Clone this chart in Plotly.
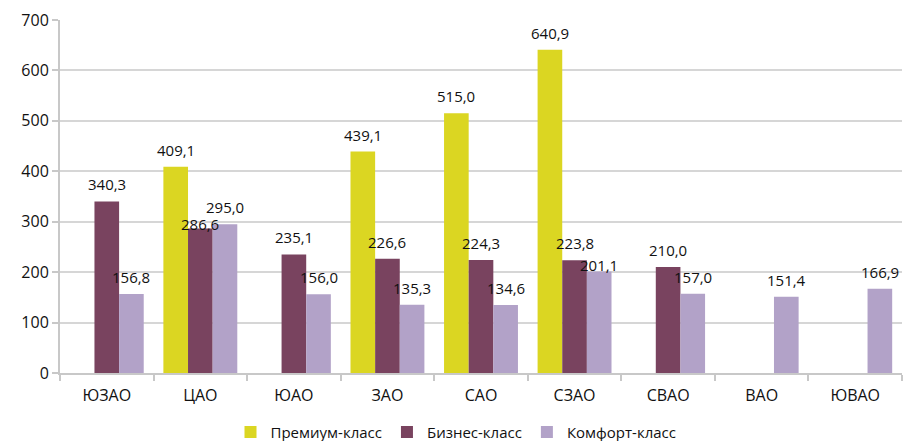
import plotly.graph_objects as go

categories = ["ЮЗАО", "ЦАО", "ЮАО", "ЗАО", "САО", "СЗАО", "СВАО", "ВАО", "ЮВАО"]
premium = [None, 409.1, None, 439.1, 515.0, 640.9, None, None, None]
business = [340.3, 286.6, 235.1, 226.6, 224.3, 223.8, 210.0, None, None]
comfort = [156.8, 295.0, 156.0, 135.3, 134.6, 201.1, 157.0, 151.4, 166.9]
y_ticks = [0, 100, 200, 300, 400, 500, 600, 700]

series = [
    ("Премиум-класс", premium, "#dbd622"),
    ("Бизнес-класс", business, "#79435f"),
    ("Комфорт-класс", comfort, "#b2a2c8"),
]

BARGAP = 0.21
LABEL_SHIFT = 17  # px above bar top (label centre)
# label nudges (series index, category index) -> px shift, as in the reference
NUDGE = {(1, 1): 4, (2, 5): 7}

def fmt(v):
    return f"{v:.1f}".replace(".", ",")

fig = go.Figure()
slot_w = (1 - BARGAP) / len(series)
for s, (name, vals, color) in enumerate(series):
    fig.add_trace(go.Bar(
        x=categories, y=vals, name=name, marker_color=color,
        marker_line_width=0, hoverinfo="y",
    ))
    for i, v in enumerate(vals):
        if v is None:
            continue
        fig.add_annotation(
            x=i + (s - 1) * slot_w, y=v, xref="x", yref="y",
            text=fmt(v), showarrow=False, yanchor="middle",
            yshift=NUDGE.get((s, i), LABEL_SHIFT),
            font=dict(size=15, color="#111111"),
        )

fig.update_layout(
    width=912, height=441,
    margin=dict(l=60, r=10, t=20, b=68, autoexpand=False),
    paper_bgcolor="white", plot_bgcolor="white",
    barmode="group", bargap=BARGAP, bargroupgap=0,
    font=dict(family="Open Sans, sans-serif", size=15, color="#111111"),
    showlegend=True,
    legend=dict(orientation="h", x=0.5, xanchor="center", xref="container",
                y=0.02, yanchor="middle", yref="container",
                font=dict(size=15), traceorder="normal"),
)
fig.update_xaxes(
    showline=True, linecolor="#c8c8c8", linewidth=2,
    ticks="outside", tickcolor="#c8c8c8", ticklen=6, tickwidth=2,
    tickson="boundaries", tickfont=dict(size=16), showgrid=False,
    ticklabelstandoff=7,
)
fig.update_yaxes(
    range=[0, 700], tickvals=y_ticks, showgrid=True, gridcolor="#d6d6d6", gridwidth=2,
    showline=True, linecolor="#c8c8c8", linewidth=2,
    ticks="outside", tickcolor="#c8c8c8", ticklen=6, tickwidth=2,
    tickfont=dict(size=16), zeroline=False,
)

fig.write_html("out.html")
